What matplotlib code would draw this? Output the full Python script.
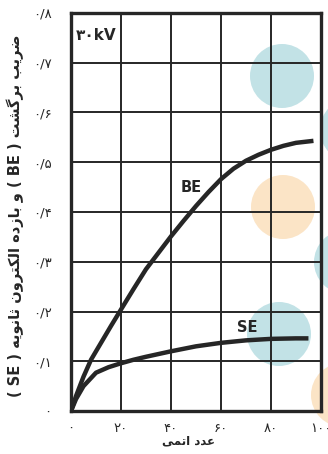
import matplotlib
matplotlib.use("Agg")
import matplotlib.pyplot as plt
from matplotlib.patches import Circle

# atomic number vs. backscatter (BE) and secondary electron yield (SE), 30 kV
be_z = [0, 2, 5, 8, 12, 16, 20, 25, 30, 35, 40, 45, 50, 55, 60, 65, 70, 75, 80, 85, 90, 97]
be_val = [0.0, 0.03, 0.069, 0.103, 0.137, 0.171, 0.204, 0.245, 0.285, 0.318, 0.351, 0.382,
          0.412, 0.44, 0.466, 0.487, 0.503, 0.515, 0.525, 0.533, 0.539, 0.543]

se_z = [0, 2, 5, 10, 15, 20, 25, 30, 40, 50, 60, 70, 80, 90, 95]
se_val = [0.0, 0.024, 0.05, 0.077, 0.088, 0.096, 0.103, 0.109, 0.12, 0.13, 0.137, 0.142,
          0.145, 0.146, 0.146]

x_ticks = [0, 20, 40, 60, 80, 100]
y_ticks = [0.0, 0.1, 0.2, 0.3, 0.4, 0.5, 0.6, 0.7, 0.8]

FA_DIGITS = str.maketrans("0123456789", "۰۱۲۳۴۵۶۷۸۹")

# presentation forms: isolated, final, initial, medial (right-joining letters have only two)
FORMS = {
    "ا": ("\uFE8D", "\uFE8E"),
    "ب": ("\uFE8F", "\uFE90", "\uFE91", "\uFE92"),
    "ت": ("\uFE95", "\uFE96", "\uFE97", "\uFE98"),
    "ث": ("\uFE99", "\uFE9A", "\uFE9B", "\uFE9C"),
    "د": ("\uFEA9", "\uFEAA"),
    "ر": ("\uFEAD", "\uFEAE"),
    "ز": ("\uFEAF", "\uFEB0"),
    "ش": ("\uFEB5", "\uFEB6", "\uFEB7", "\uFEB8"),
    "ض": ("\uFEBD", "\uFEBE", "\uFEBF", "\uFEC0"),
    "ع": ("\uFEC9", "\uFECA", "\uFECB", "\uFECC"),
    "ل": ("\uFEDD", "\uFEDE", "\uFEDF", "\uFEE0"),
    "م": ("\uFEE1", "\uFEE2", "\uFEE3", "\uFEE4"),
    "ن": ("\uFEE5", "\uFEE6", "\uFEE7", "\uFEE8"),
    "ه": ("\uFEE9", "\uFEEA", "\uFEEB", "\uFEEC"),
    "و": ("\uFEED", "\uFEEE"),
    "ی": ("\uFBFC", "\uFBFD", "\uFBFE", "\uFBFF"),
    "ک": ("\uFB8E", "\uFB8F", "\uFB90", "\uFB91"),
    "گ": ("\uFB92", "\uFB93", "\uFB94", "\uFB95"),
}


def shape_word(word):
    out = []
    for i, ch in enumerate(word):
        forms = FORMS.get(ch)
        if forms is None:
            out.append(ch)
            continue
        prev = word[i - 1] if i > 0 else None
        nxt = word[i + 1] if i + 1 < len(word) else None
        join_prev = prev in FORMS and len(FORMS[prev]) == 4
        join_next = nxt in FORMS and len(forms) == 4
        if join_prev and join_next:
            out.append(forms[3])
        elif join_prev:
            out.append(forms[1])
        elif join_next:
            out.append(forms[2])
        else:
            out.append(forms[0])
    return "".join(reversed(out))


def rtl(text):
    mirror = {"(": ")", ")": "("}
    words = []
    for w in reversed(text.split(" ")):
        if w in mirror:
            words.append(mirror[w])
        elif any(c in FORMS for c in w):
            words.append(shape_word(w))
        else:
            words.append(w)
    return " ".join(words)


def fa_num(v):
    if v == 0:
        return "۰"
    return ("0/%g" % (v * 10)).translate(FA_DIGITS)


plt.rcParams["font.family"] = ["DejaVu Sans"]

fig = plt.figure(figsize=(3.28, 4.54), dpi=100)

# pale printed dots on a backdrop layer behind the chart
bg = fig.add_axes([0, 0, 1, 1], zorder=-1)
bg.set_xlim(0, 328)
bg.set_ylim(454, 0)
bg.axis("off")
blue = "#c2e2e6"
orange = "#fbe4c6"
for (cx, cy, col) in [(282, 76, blue), (283, 207, orange), (279, 334, blue),
                      (352, 130, blue), (346, 262, blue), (343, 395, orange)]:
    bg.add_patch(Circle((cx, cy), 32, color=col, lw=0))

ax = fig.add_axes([0.2165, 0.0947, 0.762, 0.8767])
ax.set_facecolor("none")

ink = "#262626"
ax.plot(be_z, be_val, color=ink, lw=3.2, solid_capstyle="butt",
        solid_joinstyle="round", zorder=3)
ax.plot(se_z, se_val, color=ink, lw=3.2, solid_capstyle="butt",
        solid_joinstyle="round", zorder=3)

ax.set_xlim(0, 100)
ax.set_ylim(0, 0.8)
ax.set_xticks(x_ticks)
ax.set_xticklabels([str(v).translate(FA_DIGITS) for v in x_ticks])
ax.set_yticks(y_ticks)
ax.set_yticklabels([fa_num(v) for v in y_ticks])
ax.tick_params(length=0, labelsize=9.5, colors=ink)
ax.tick_params(axis="y", pad=14)
ax.tick_params(axis="x", pad=8)
ax.grid(True, color=ink, lw=1.4)
for s in ax.spines.values():
    s.set_linewidth(2.4)
    s.set_color(ink)

ax.text(2, 0.755, "۳۰kV", fontsize=11, fontweight="bold", color=ink, va="center")
ax.text(48, 0.45, "BE", fontsize=10.5, fontweight="bold", color=ink, ha="center", va="center")
ax.text(70.5, 0.167, "SE", fontsize=10.5, fontweight="bold", color=ink, ha="center", va="center")

ax.set_xlabel(rtl("عدد اتمی"), fontsize=8.5, fontweight="bold", color=ink)
ax.xaxis.set_label_coords(0.47, -0.06)
ax.set_ylabel(rtl("ضریب برگشت ( BE ) و بازده الکترون ثانویه ( SE )"),
              fontsize=10.5, fontweight="bold", color=ink)
ax.yaxis.set_label_coords(-0.19, 0.49)

fig.savefig("out.png", dpi=100)
